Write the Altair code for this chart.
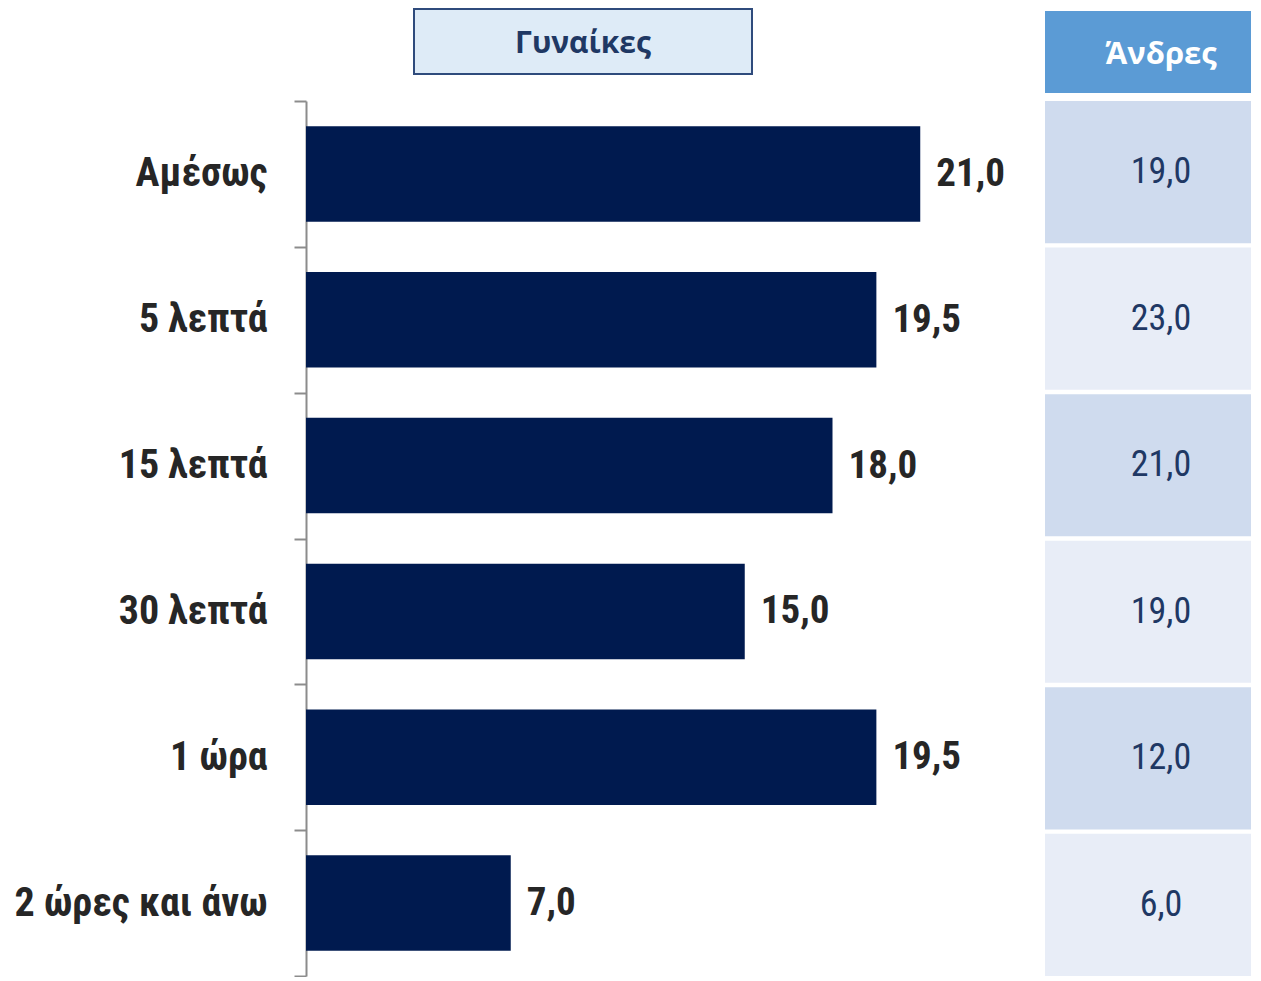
import altair as alt
import pandas as pd

categories = ["Αμέσως", "5 λεπτά", "15 λεπτά", "30 λεπτά", "1 ώρα", "2 ώρες και άνω"]
women = [21.0, 19.5, 18.0, 15.0, 19.5, 7.0]
men = [19.0, 23.0, 21.0, 19.0, 12.0, 6.0]
women_title = "Γυναίκες"
men_title = "Άνδρες"

df = pd.DataFrame({"cat": categories, "women": women, "men": men, "row": list(range(len(categories)))})

H = 875
NARROW = "Liberation Sans Narrow, Roboto Condensed, Arial Narrow, sans-serif"
SANS = "Open Sans, Noto Sans, sans-serif"

ysort = categories

base = alt.Chart(df).transform_calculate(
    wlabel="replace(format(datum.women, '.1f'), '.', ',')"
).encode(
    y=alt.Y(
        "cat:N",
        sort=ysort,
        scale=alt.Scale(paddingInner=0, paddingOuter=0),
        axis=alt.Axis(
            title=None,
            labelFont=NARROW,
            labelFontSize=40,
            labelFontWeight="bold",
            labelColor="#262626",
            labelPadding=27,
            labelLimit=400,
            tickSize=12,
            tickWidth=2,
            tickColor="#8C8C8C",
            domainColor="#8C8C8C",
            domainWidth=2,
            tickBand="extent",
        ),
    )
)

xscale = alt.Scale(domain=[0, 24])
bars = base.mark_bar(color="#001A4F", height={"band": 0.655}).encode(
    x=alt.X("women:Q", scale=xscale, axis=None)
)
bar_labels = base.mark_text(
    align="left", baseline="middle", dx=16, font=NARROW, fontSize=39,
    fontWeight="bold", color="#262626"
).encode(x=alt.X("women:Q", scale=xscale), text="wlabel:N")

wdf = pd.DataFrame({"t": [women_title]})
w_box = alt.Chart(wdf).mark_rect(
    fill="#DEEBF7", stroke="#2F4B7C", strokeWidth=2
).encode(x=alt.value(108), x2=alt.value(446), y=alt.value(-92), y2=alt.value(-27))
w_text = alt.Chart(wdf).mark_text(
    font=SANS, fontSize=30, fontWeight="bold", color="#1F3864", baseline="middle"
).encode(x=alt.value(277), y=alt.value(-57), text="t:N")

left = alt.layer(bars, bar_labels, w_box, w_text).properties(width=702, height=H)

TW = 206
TX = 116
tbase = alt.Chart(df).transform_calculate(
    mlabel="replace(format(datum.men, '.1f'), '.', ',')",
    shade="datum.row % 2 == 0 ? 'dark' : 'light'",
)
tscale = alt.Scale(paddingInner=0.03, paddingOuter=0)
cells = tbase.mark_rect().encode(
    y=alt.Y("cat:N", sort=ysort, scale=tscale, axis=None),
    x=alt.value(0),
    x2=alt.value(TW),
    color=alt.Color("shade:N", scale=alt.Scale(domain=["dark", "light"], range=["#CFDBEE", "#E8EDF7"]), legend=None),
)
cell_text = tbase.mark_text(
    font=NARROW, fontSize=36, color="#1F3864", baseline="middle"
).encode(
    y=alt.Y("cat:N", sort=ysort, scale=tscale, axis=None),
    x=alt.value(TX),
    text="mlabel:N",
)
mdf = pd.DataFrame({"t": [men_title]})
m_box = alt.Chart(mdf).mark_rect(fill="#5B9BD5").encode(
    x=alt.value(0), x2=alt.value(TW), y=alt.value(-90), y2=alt.value(-8)
)
m_text = alt.Chart(mdf).mark_text(
    font=SANS, fontSize=31, fontWeight="bold", color="white", baseline="middle"
).encode(x=alt.value(TX), y=alt.value(-46), text="t:N")

right = alt.layer(cells, cell_text, m_box, m_text).properties(width=TW, height=H)

chart = alt.hconcat(left, right, spacing=37).properties(
    padding={"left": 6, "top": 0, "right": 0, "bottom": 0}
).configure_view(stroke=None)

chart.save("out.html", embed_options={"renderer": "svg", "actions": False})
